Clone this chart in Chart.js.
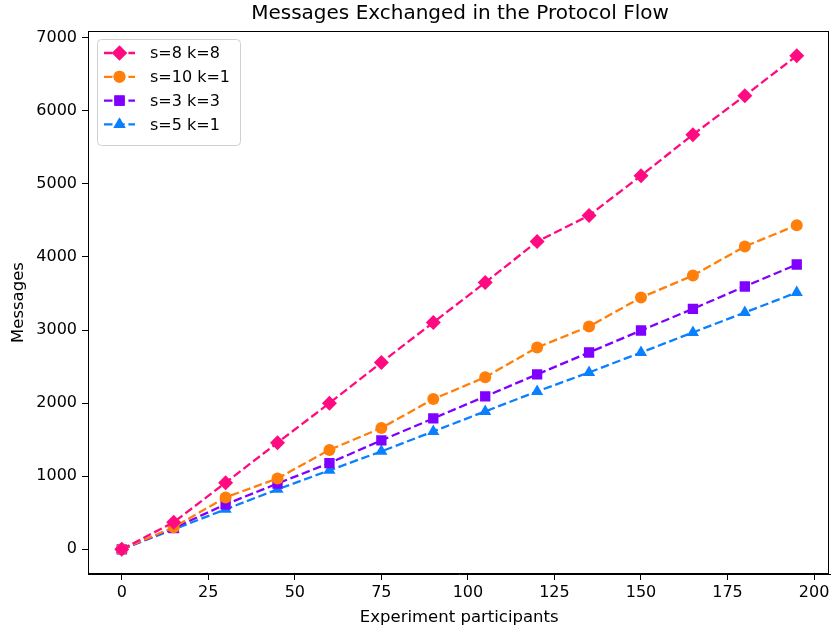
<!DOCTYPE html>
<html>
<head>
<meta charset="utf-8">
<script src="https://cdn.jsdelivr.net/npm/chart.js@4"></script>
<style>
  html, body { margin: 0; padding: 0; background: #fff; overflow: hidden; }
  #wrap { width: 835px; height: 632px; overflow: hidden; }
</style>
</head>
<body>
<div id="wrap"><canvas id="grafica" width="838" height="632"></canvas></div>
<script>
// --- Datos ---
const participantes = [0, 15, 30, 45, 60, 75, 90, 105, 120, 135, 150, 165, 180, 195];
const serieS8K8 = [0, 370, 912, 1459, 2000, 2557, 3104, 3650, 4211, 4567, 5113, 5674, 6207, 6754];
const serieS10K1 = [0, 300, 710, 970, 1360, 1660, 2055, 2355, 2762, 3049, 3445, 3746, 4143, 4435];
const serieS3K3 = [0, 290, 615, 900, 1180, 1490, 1791, 2092, 2393, 2693, 2994, 3290, 3596, 3897];
const serieS5K1 = [0, 273, 547, 820, 1080, 1340, 1613, 1887, 2160, 2420, 2693, 2967, 3240, 3514];
const etiquetas = ['s=8 k=8', 's=10 k=1', 's=3 k=3', 's=5 k=1'];
const ticksX = [0, 25, 50, 75, 100, 125, 150, 175, 200];
const ticksY = [0, 1000, 2000, 3000, 4000, 5000, 6000, 7000];

const FUENTE = 'DejaVu Sans';

function puntos(serie) {
    return serie.map((v, i) => ({ x: participantes[i], y: v }));
}

function dataset(label, serie, color, estilo, radio) {
    return {
        label: label,
        data: puntos(serie),
        borderColor: color,
        backgroundColor: color,
        borderWidth: 2.3,
        borderDash: [8.5, 3.7],
        pointStyle: estilo,
        pointRadius: radio,
        pointHoverRadius: radio,
        pointBorderWidth: 0,
        pointBackgroundColor: color,
        tension: 0
    };
}

// --- Plugin: marco, título y leyenda ---
const marcoPlugin = {
    id: 'marco',
    afterDraw(chart) {
        const { ctx, chartArea: a } = chart;
        ctx.save();
        ctx.strokeStyle = '#000';
        ctx.lineWidth = 1;
        ctx.strokeRect(a.left + 0.5, a.top + 0.5, Math.round(a.right - a.left) - 3, a.bottom - a.top - 1);

        // título
        ctx.fillStyle = '#000';
        ctx.font = `20px "${FUENTE}"`;
        ctx.textAlign = 'center';
        ctx.textBaseline = 'middle';
        ctx.fillText('Messages Exchanged in the Protocol Flow', 460, 14);

        // leyenda
        const x0 = 97, y0 = 39, w = 143, h = 106;
        ctx.beginPath();
        ctx.roundRect(x0 + 0.5, y0 + 0.5, w, h, 4);
        ctx.fillStyle = 'rgba(255,255,255,0.8)';
        ctx.fill();
        ctx.strokeStyle = '#d0d0d0';
        ctx.stroke();

        chart.data.datasets.forEach((ds, i) => {
            const y = 53 + i * 23.8;
            ctx.beginPath();
            ctx.setLineDash(ds.borderDash);
            ctx.strokeStyle = ds.borderColor;
            ctx.lineWidth = ds.borderWidth;
            ctx.moveTo(104, y);
            ctx.lineTo(135, y);
            ctx.stroke();
            ctx.setLineDash([]);
            ctx.fillStyle = ds.backgroundColor;
            Chart.helpers.drawPoint(ctx, { pointStyle: ds.pointStyle, radius: ds.pointRadius, borderWidth: 0 }, 119.5, y);
            ctx.fill();
            ctx.fillStyle = '#000';
            ctx.font = `16px "${FUENTE}"`;
            ctx.textAlign = 'left';
            ctx.textBaseline = 'middle';
            ctx.fillText(ds.label, 150, y + 1);
        });
        ctx.restore();
    }
};

const ctx = document.getElementById('grafica').getContext('2d');
new Chart(ctx, {
    type: 'line',
    data: {
        datasets: [
            dataset(etiquetas[0], serieS8K8, '#ff0a80', 'rectRot', 7.5),
            dataset(etiquetas[1], serieS10K1, '#ff7f0a', 'circle', 6),
            dataset(etiquetas[2], serieS3K3, '#8000ff', 'rect', 7.3),
            dataset(etiquetas[3], serieS5K1, '#0a80ff', 'triangle', 7)
        ]
    },
    options: {
        responsive: false,
        animation: false,
        events: [],
        layout: { padding: { top: 31, right: 0, bottom: 0, left: 0 } },
        plugins: {
            legend: { display: false },
            title: { display: false },
            tooltip: { enabled: false }
        },
        scales: {
            x: {
                type: 'linear',
                min: -9.75,
                max: 204.75,
                afterBuildTicks: s => { s.ticks = ticksX.map(v => ({ value: v })); },
                afterFit: s => { s.height = 58; s.paddingLeft = 0; s.paddingRight = 0; },
                grid: { drawOnChartArea: false, drawTicks: true, tickLength: 6, color: '#000' },
                border: { display: true, color: '#000' },
                ticks: {
                    color: '#000', padding: 3, font: { family: FUENTE, size: 16 }, maxRotation: 0,
                    callback: v => String(v)
                },
                title: {
                    display: true, text: 'Experiment participants', color: '#000',
                    font: { family: FUENTE, size: 16.5 }, padding: { top: 0, bottom: 4 }
                }
            },
            y: {
                type: 'linear',
                min: -338,
                max: 7092,
                afterBuildTicks: s => { s.ticks = ticksY.map(v => ({ value: v })); },
                afterFit: s => { s.width = 88; s.paddingTop = 0; s.paddingBottom = 0; },
                grid: { drawOnChartArea: false, drawTicks: true, tickLength: 6, color: '#000' },
                border: { display: true, color: '#000' },
                ticks: {
                    color: '#000', padding: 5, font: { family: FUENTE, size: 16 },
                    callback: v => String(v)
                },
                title: {
                    display: true, text: 'Messages', color: '#000',
                    font: { family: FUENTE, size: 16.5 }, padding: { top: 9, bottom: 0 }
                }
            }
        }
    },
    plugins: [marcoPlugin]
});
</script>
</body>
</html>
